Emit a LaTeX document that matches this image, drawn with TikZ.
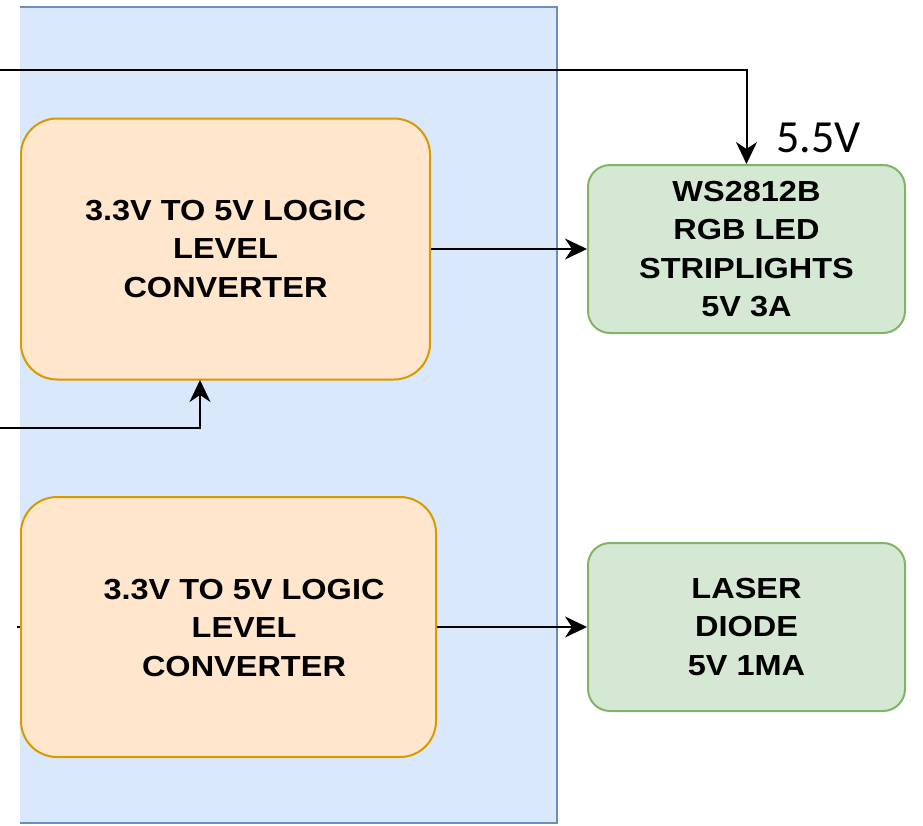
\documentclass[tikz,border=0pt]{standalone}
\usepackage{fontspec}
\usetikzlibrary{arrows.meta}
\newfontfamily\boxfont[FakeStretch=1.12]{Liberation Sans Bold}
\newfontfamily\labfont{Carlito}
\definecolor{bluefill}{HTML}{DAE8FC}
\definecolor{blueline}{HTML}{6C8EBF}
\definecolor{orfill}{HTML}{FFE6CC}
\definecolor{orline}{HTML}{D79B00}
\definecolor{grfill}{HTML}{D5E8D4}
\definecolor{grline}{HTML}{82B366}
\tikzset{
  orbox/.style={draw=orline, fill=orfill, line width=2pt, rounded corners=36pt, inner sep=0pt},
  grbox/.style={draw=grline, fill=grfill, line width=2pt, rounded corners=22pt, inner sep=0pt},
  boxtext/.style={align=center, font=\boxfont\fontsize{29}{38.5}\selectfont, text=black},
  conn/.style={line width=2pt, -{Stealth[length=22pt,width=21pt,inset=7pt]}},
  wire/.style={line width=2pt}
}
\begin{document}
\begin{tikzpicture}[x=1pt,y=-1pt]
\useasboundingbox (0,0) rectangle (923,825);
% blue container
\fill[bluefill] (20,7) rectangle (557,823);
\draw[blueline, line width=2pt] (20,7) -- (557,7) -- (557,823) -- (20,823);
% boxes
\node[orbox, minimum width=409pt, minimum height=261pt] (conv1) at (225.5,249) {};
\node[boxtext] at (conv1.center) {3.3V TO 5V LOGIC\\LEVEL\\CONVERTER};
\node[orbox, minimum width=415pt, minimum height=260pt] (conv2) at (228.5,627) {};
\node[boxtext] (conv2t) at (244,628) {3.3V TO 5V LOGIC\\LEVEL\\CONVERTER};
\node[grbox, minimum width=317pt, minimum height=168pt] (led) at (746.5,249) {};
\node[boxtext] at (led.center) {WS2812B\\RGB LED\\STRIPLIGHTS\\5V 3A};
\node[grbox, minimum width=317pt, minimum height=168pt] (laser) at (746.5,627) {};
\node[boxtext] at (laser.center) {LASER\\DIODE\\5V 1MA};
% label
\node[font=\labfont\fontsize{46}{50}\selectfont, anchor=base west, inner sep=0pt] (v55) at (776,152) {5.5V};
% connectors
\coordinate (topin) at (0,70);
\coordinate (botin) at (0,428);
\coordinate (stub) at (17,627);
\draw[conn] (topin) -- (led.north |- topin) -- (led.north);
\draw[conn] (conv1.east |- led.west) -- (led.west);
\draw[conn] (botin) -- (200,428) -- (200,380);
\draw[conn] (conv2.east |- laser.west) -- (laser.west);
\draw[wire] (stub) -- (conv2.west);
\end{tikzpicture}
\end{document}
